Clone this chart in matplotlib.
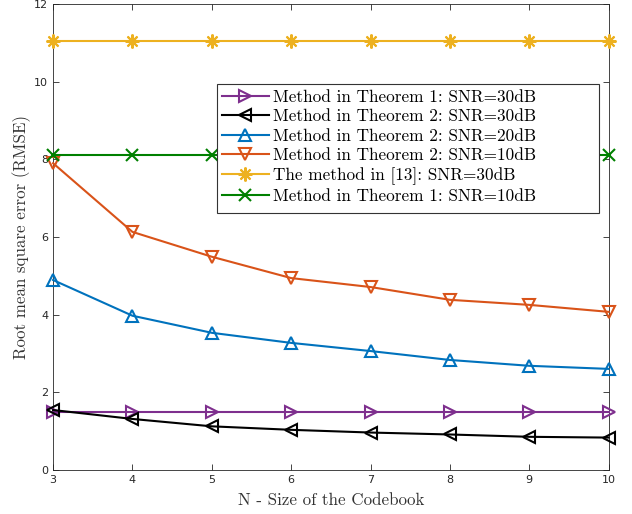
import matplotlib as mpl

mpl.use("Agg")
import matplotlib.pyplot as plt
from matplotlib.patches import Rectangle

# codebook sizes and RMSE per method
n_size = [3, 4, 5, 6, 7, 8, 9, 10]
thm1_30db = [1.48, 1.48, 1.48, 1.48, 1.48, 1.48, 1.48, 1.48]
thm2_30db = [1.54, 1.31, 1.12, 1.03, 0.96, 0.91, 0.85, 0.83]
thm2_20db = [4.89, 3.97, 3.53, 3.27, 3.06, 2.83, 2.68, 2.60]
thm2_10db = [7.90, 6.13, 5.49, 4.94, 4.71, 4.38, 4.25, 4.07]
ref13_30db = [11.05, 11.05, 11.05, 11.05, 11.05, 11.05, 11.05, 11.05]
thm1_10db = [8.11, 8.11, 8.11, 8.11, 8.11, 8.11, 8.11, 8.11]

labels = [
    "Method in Theorem 1: SNR=30dB",
    "Method in Theorem 2: SNR=30dB",
    "Method in Theorem 2: SNR=20dB",
    "Method in Theorem 2: SNR=10dB",
    "The method in [13]: SNR=30dB",
    "Method in Theorem 1: SNR=10dB",
]
yticks = [0, 2, 4, 6, 8, 10, 12]

SERIF = "cmr10"
TICK = "#262626"

fig = plt.figure(figsize=(6.32, 5.14), dpi=100)
ax = fig.add_axes([0.084, 0.086, 0.879, 0.906])

# (8, 2, 0) is an eight-armed asterisk
styles = [
    (thm1_30db, "#7E2F8E", ">", 9),
    (thm2_30db, "black", "<", 9),
    (thm2_20db, "#0072BD", "^", 9),
    (thm2_10db, "#D95319", "v", 9),
    (ref13_30db, "#EDB120", (8, 2, 0), 10),
    (thm1_10db, "#008000", "x", 8),
]
for (vals, color, marker, ms), lab in zip(styles, labels):
    ax.plot(n_size, vals, color=color, marker=marker, ms=ms, lw=1.5,
            mfc="none", mew=1.5, label=lab, clip_on=False, zorder=3)

ax.set_xlim(3, 10)
ax.set_ylim(0, 12)
ax.set_xticks(n_size)
ax.set_yticks(yticks)
ax.tick_params(direction="in", top=True, right=True, labelsize=8,
               colors=TICK, length=4, width=0.6)
for sp in ax.spines.values():
    sp.set_color("#262626")
    sp.set_linewidth(0.6)

ax.set_xlabel("N - Size of the Codebook", family=SERIF, fontsize=12.2,
              color="#333333", labelpad=6)
ax.set_ylabel("Root mean square error (RMSE)", family=SERIF, fontsize=12.2,
              color="#333333", labelpad=2)

# legend box is wider than its entries, so draw the frame separately
box = Rectangle((0.295, 0.5515), 0.687, 0.2765, transform=ax.transAxes,
                facecolor="white", edgecolor="#333333", lw=0.8, zorder=4)
ax.add_patch(box)
leg = ax.legend(loc="upper left", bbox_to_anchor=(0.295, 0.828),
                prop={"family": SERIF, "size": 12.4}, frameon=False,
                borderpad=0.3, labelspacing=0.24, handlelength=2.7,
                handletextpad=0.25, borderaxespad=0)
leg.set_zorder(5)

fig.savefig("out.png", dpi=100)
